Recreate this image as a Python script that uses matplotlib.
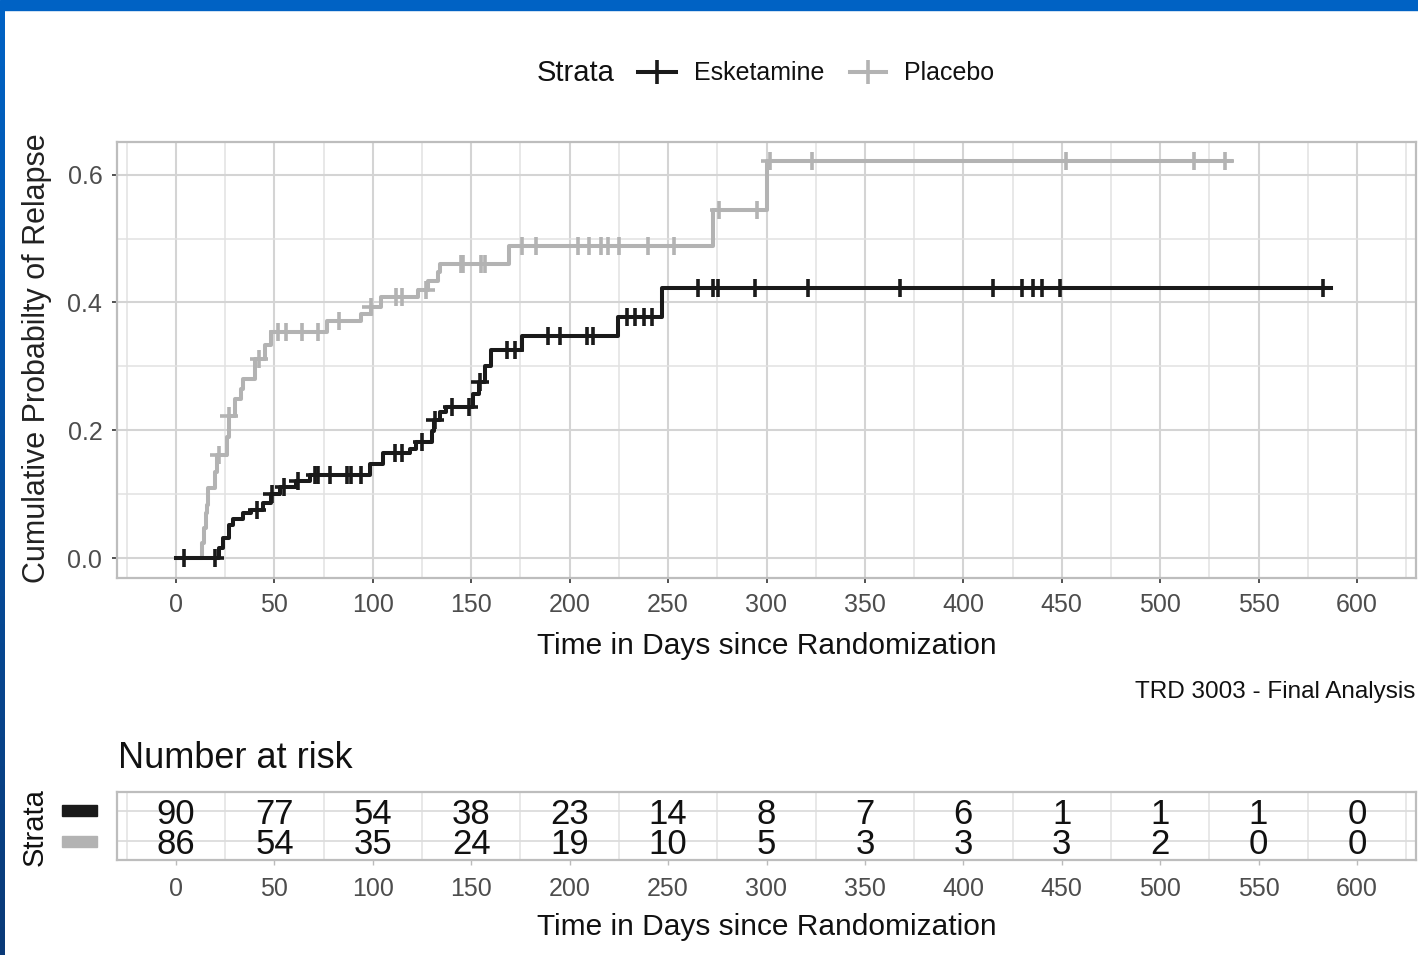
import numpy as np
import matplotlib
matplotlib.use("Agg")
import matplotlib.pyplot as plt
from matplotlib.lines import Line2D
from matplotlib.patches import Rectangle
from matplotlib.colors import LinearSegmentedColormap
import matplotlib.transforms as mtransforms

plt.rcParams['font.family'] = ['Liberation Sans', 'DejaVu Sans']

W, H = 1418, 955

# cumulative probability of relapse, step times (days) and levels
eske_time = [0, 22, 24, 27, 29, 34, 38, 44, 48, 53, 61, 68, 98.6, 105, 119, 122,
             130, 131, 134, 137, 151, 154, 157, 160, 175.6, 224.6, 246.8]
eske_prob = [0, 0.016, 0.031, 0.052, 0.062, 0.070, 0.075, 0.086, 0.101, 0.112,
             0.120, 0.130, 0.148, 0.164, 0.171, 0.182, 0.199, 0.216, 0.229, 0.237,
             0.257, 0.276, 0.300, 0.325, 0.348, 0.377, 0.423]
eske_end = 587
eske_cens = [4, 20, 41, 49, 55, 62, 70.6, 72, 78, 86.7, 89, 94, 111, 114.7, 125,
             131.6, 140, 149, 154.5, 168, 172, 189, 195, 208.7, 212, 229, 233, 238,
             242, 265, 273, 275.6, 294, 321, 368, 415, 430, 435.6, 440, 449, 583]

plac_time = [0, 13, 14, 15, 15.5, 16, 20, 21, 26, 27, 30, 33, 34, 40, 45, 48,
             76.6, 94, 99, 104, 123, 128, 133, 134, 169, 273, 300]
plac_prob = [0, 0.023, 0.047, 0.070, 0.083, 0.109, 0.135, 0.161, 0.190, 0.223,
             0.249, 0.265, 0.280, 0.312, 0.333, 0.354, 0.371, 0.382, 0.393, 0.408,
             0.420, 0.434, 0.447, 0.460, 0.488, 0.545, 0.621]
plac_end = 536
plac_cens = [22, 27, 42, 52, 56, 64, 72, 83, 99, 112, 115, 127, 145, 146, 155, 157,
             176, 183, 204, 210, 216, 219.5, 225, 240, 253, 276, 295, 302, 323,
             452, 517, 533]

# number at risk
risk_times = [0, 50, 100, 150, 200, 250, 300, 350, 400, 450, 500, 550, 600]
risk_eske = [90, 77, 54, 38, 23, 14, 8, 7, 6, 1, 1, 1, 0]
risk_plac = [86, 54, 35, 24, 19, 10, 5, 3, 3, 3, 2, 0, 0]

col_eske = '#1A1A1A'
col_plac = '#B3B3B3'
tick_grey = '#4D4D4D'


def fx(px):
    return px / W


def fy(py):
    return 1 - py / H


fig = plt.figure(figsize=(W / 100, H / 100), dpi=100)
fig.patch.set_facecolor('white')

# main panel
ax = fig.add_axes([fx(117), fy(578), fx(1416) - fx(117), fy(142) - fy(578)])
ax.set_xlim(-30, 630)
ax.set_ylim(-0.031, 0.651)
ax.set_xticks(risk_times)
ax.set_xticks(np.arange(-25, 630, 50), minor=True)
ax.set_yticks([0, 0.2, 0.4, 0.6])
ax.set_yticklabels(['0.0', '0.2', '0.4', '0.6'])
ax.set_yticks([0.1, 0.3, 0.5], minor=True)
ax.grid(which='major', color='#D4D4D4', lw=1.5)
ax.grid(which='minor', color='#E2E2E2', lw=1.1)
ax.set_axisbelow(True)
for s in ax.spines.values():
    s.set_color('#BDBDBD')
    s.set_linewidth(1.6)
ax.tick_params(which='major', length=3.6, width=1.2, color='#333333',
               labelsize=18, labelcolor=tick_grey, pad=7)
ax.tick_params(which='minor', length=0)


def draw_curve(times, probs, end, cens, color):
    t = list(times) + [end]
    p = list(probs) + [probs[-1]]
    ax.step(t, p, where='post', color=color, lw=2.9, zorder=3)
    idx = np.searchsorted(times, cens, side='right') - 1
    ax.plot(cens, np.array(probs)[idx], ls='none', marker='+', ms=13,
            mew=2.6, color=color, zorder=4)


draw_curve(plac_time, plac_prob, plac_end, plac_cens, col_plac)
draw_curve(eske_time, eske_prob, eske_end, eske_cens, col_eske)

fig.text(fx(37), fy(358), 'Cumulative Probabilty of Relapse', rotation=90,
         ha='center', va='center', fontsize=22, color='#222222')
fig.text(fx(767), fy(646), 'Time in Days since Randomization', ha='center',
         va='center', fontsize=21.5, color='#111111')
fig.text(fx(1415), fy(692), 'TRD 3003 - Final Analysis', ha='right',
         va='center', fontsize=17.5, color='#111111')

# legend
fig.text(fx(537), fy(73), 'Strata', ha='left', va='center', fontsize=21,
         color='#111111')
for x0, x1, c, lab in [(638, 676, col_eske, 'Esketamine'),
                       (850, 886, col_plac, 'Placebo')]:
    fig.add_artist(Line2D([fx(x0), fx(x1)], [fy(72), fy(72)], color=c, lw=2.9,
                          transform=fig.transFigure))
    fig.add_artist(Line2D([fx((x0 + x1) / 2)], [fy(72)], color=c, marker='+',
                          ms=17, mew=2.6, transform=fig.transFigure))
    fig.text(fx(x1 + 18), fy(73), lab, ha='left', va='center', fontsize=18,
             color='#111111')

# risk table
fig.text(fx(118), fy(758), 'Number at risk', ha='left', va='center',
         fontsize=26, color='#111111')
rt = fig.add_axes([fx(117), fy(860), fx(1416) - fx(117), fy(792) - fy(860)])
rt.set_xlim(-30, 630)
rt.set_ylim(0.4, 2.6)
rt.set_xticks(risk_times)
rt.set_xticks(np.arange(-25, 630, 50), minor=True)
rt.set_yticks([1, 2])
rt.set_yticklabels([])
rt.grid(which='minor', axis='x', color='#E2E2E2', lw=1.1)
rt.grid(which='major', axis='y', color='#DCDCDC', lw=1.3)
rt.set_axisbelow(True)
for s in rt.spines.values():
    s.set_color('#BDBDBD')
    s.set_linewidth(1.6)
rt.tick_params(axis='x', which='major', length=3.6, width=1.0, color='#BBBBBB',
               labelsize=18, labelcolor=tick_grey, pad=9)
rt.tick_params(axis='y', length=0)
rt.tick_params(which='minor', length=0)
for t, a, b in zip(risk_times, risk_eske, risk_plac):
    rt.text(t, 2, str(a), ha='center', va='center_baseline', fontsize=25,
            color='#111111')
    rt.text(t, 1, str(b), ha='center', va='center_baseline', fontsize=25,
            color='#111111')

fig.text(fx(767), fy(927), 'Time in Days since Randomization', ha='center',
         va='center', fontsize=21.5, color='#111111')
fig.text(fx(35), fy(827), 'Strata', rotation=90, ha='center', va='center',
         fontsize=21, color='#111111')
trans = mtransforms.blended_transform_factory(fig.transFigure, rt.transData)
for yv, c in [(2, col_eske), (1, col_plac)]:
    fig.add_artist(Rectangle((fx(62), yv - 0.17), fx(97) - fx(62), 0.34,
                             transform=trans, color=c))

# slide frame
fig.add_artist(Rectangle((0, fy(10)), 1, fy(0) - fy(10), transform=fig.transFigure,
                         color='#0062C4', zorder=10))
bar = fig.add_axes([0, 0, fx(5), fy(10)])
bar.imshow(np.linspace(1, 0, 100).reshape(-1, 1), aspect='auto',
           cmap=LinearSegmentedColormap.from_list('frame', ['#0A3A78', '#0062C4']))
bar.axis('off')

fig.savefig('out.png', dpi=100)
